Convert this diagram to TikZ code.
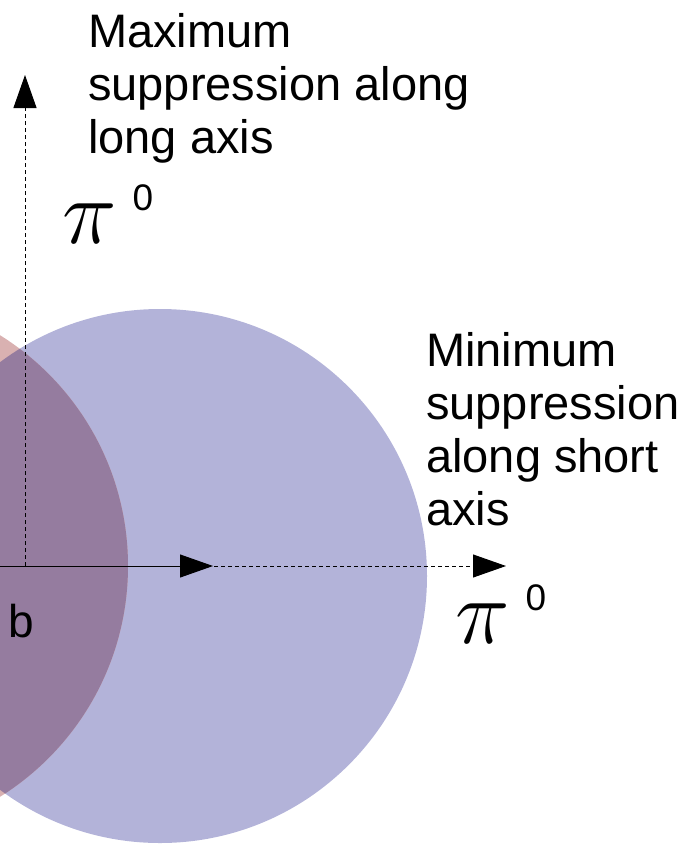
\RequirePackage{fix-cm}
\documentclass[tikz,border=0pt]{standalone}
\usepackage{fontspec}
\setmainfont{Liberation Sans}
\usetikzlibrary{arrows.meta}

\definecolor{bluedisc}{HTML}{B3B3D9}
\definecolor{reddisc}{HTML}{D9B1B1}
\definecolor{overlapdisc}{HTML}{957C9F}

\newcommand{\pinought}{{\fontsize{92}{92}\selectfont$\pi$}\hspace{16pt}\raisebox{33pt}{\fontsize{37}{37}\selectfont 0}}

\begin{document}
\begin{tikzpicture}[
    x=1pt, y=-1pt,
    >={Triangle[length=33pt,width=23pt]},
    dashaxis/.style={->, line width=1pt, dash pattern=on 4pt off 3pt},
    beam/.style={->, line width=1pt},
    note/.style={inner sep=0pt, align=left, anchor=north west, font=\fontsize{47}{53}\selectfont},
    pilabel/.style={inner sep=0pt, anchor=base west}
]
\useasboundingbox (0,0) rectangle (686,846);
\clip (0,0) rectangle (686,846);

% ================= DISCS =================
\coordinate (redc) at (-144,566);
\coordinate (bluec) at (160,576);

\fill[bluedisc] (bluec) circle (267);
\fill[reddisc] (redc) circle (272);
\begin{scope}
  \clip (bluec) circle (267);
  \fill[overlapdisc] (redc) circle (272);
\end{scope}

% ================= AXES =================
\coordinate (orig) at (25,566);
\coordinate (ytip) at (25,75);
\coordinate (xtip) at (506,566);
\coordinate (stip) at (213,566);

\draw[dashaxis] (orig) -- (ytip);
\draw[dashaxis] (orig) -- (xtip);
\draw[beam] (redc) -- (stip);

% ================= LABELS =================
\node[note] (maxlab) at (88,13) {Maximum\\suppression along\\long axis};
\node[note] (minlab) at (426,332) {Minimum\\suppression\\along short\\axis};

\node[pilabel] (pitop) at (62,243) {\pinought};
\node[pilabel] (piright) at (455,643) {\pinought};

\node[pilabel, font=\fontsize{46}{46}\selectfont] (blab) at (8,637) {b};

\end{tikzpicture}
\end{document}
